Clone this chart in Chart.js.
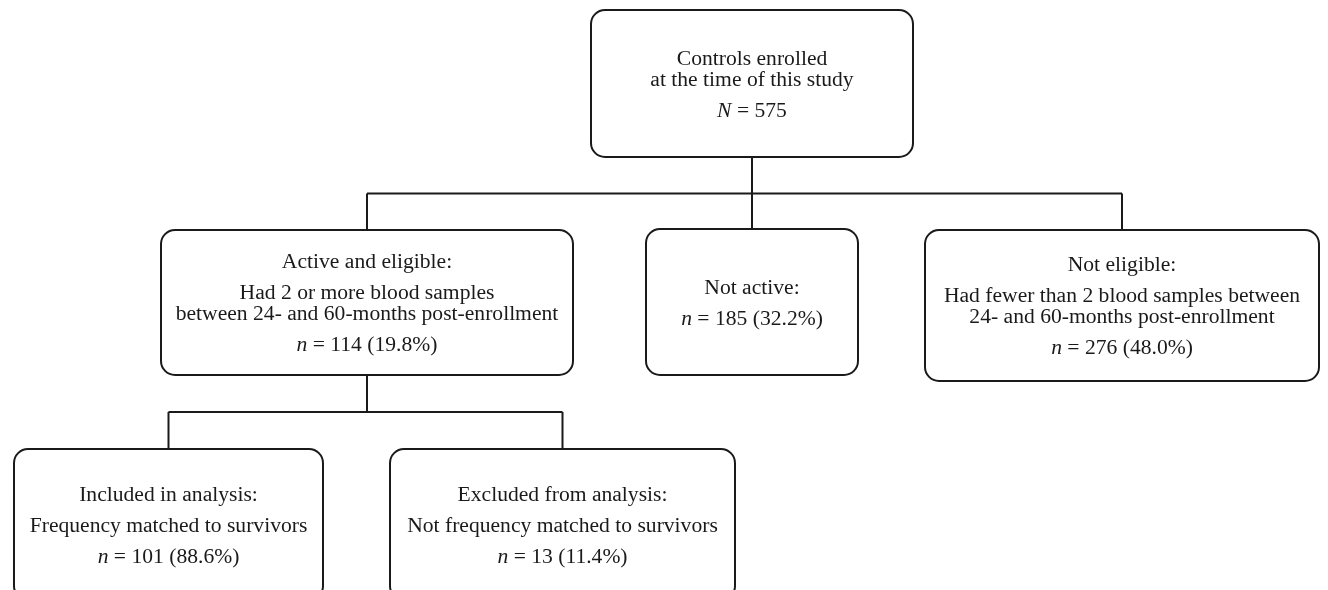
<!DOCTYPE html>
<html lang="en">
<head>
    <meta charset="UTF-8">
    <title>Controls flow diagram</title>
    <script src="https://cdn.jsdelivr.net/npm/chart.js"></script>
    <style>
        html, body {
            margin: 0;
            padding: 0;
            background: #ffffff;
        }
        #flow {
            display: block;
        }
    </style>
</head>
<body>
    <canvas id="flow" width="1328" height="590"></canvas>

    <script>
        // Box content
        const boxTitles = [
            ['Controls enrolled', 'at the time of this study'],
            ['Active and eligible:'],
            ['Not active:'],
            ['Not eligible:'],
            ['Included in analysis:'],
            ['Excluded from analysis:']
        ];
        const boxDetails = [
            [],
            ['Had 2 or more blood samples', 'between 24- and 60-months post-enrollment'],
            [],
            ['Had fewer than 2 blood samples between', '24- and 60-months post-enrollment'],
            ['Frequency matched to survivors'],
            ['Not frequency matched to survivors']
        ];
        const countSymbols = ['N', 'n', 'n', 'n', 'n', 'n'];
        const boxCounts = [575, 114, 185, 276, 101, 13];
        const boxPercents = [null, 19.8, 32.2, 48.0, 88.6, 11.4];
        const parentOf = [null, 0, 0, 0, 1, 1];

        // Layout (diagram units = pixels of the 1328x590 frame)
        const boxLeft   = [591, 161, 646, 925, 14, 390];
        const boxRight  = [913, 573, 858, 1319, 323, 735];
        const boxTop    = [10, 230, 229, 230, 449, 449];
        const boxBottom = [157, 375, 375, 381, 600, 600];
        const junctionY = { 0: 193.5, 1: 412 };

        const FONT_SIZE = 21.6;
        const CAP = 14.3;
        const LINE_GAP = 21;
        const GROUP_GAP = 31;
        const INK = '#1a1a1a';

        function countText(i) {
            let s = ' = ' + boxCounts[i];
            if (boxPercents[i] !== null) s += ' (' + boxPercents[i].toFixed(1) + '%)';
            return s;
        }

        const flowPlugin = {
            id: 'flowBoxes',
            afterDatasetsDraw(chart) {
                const ctx = chart.ctx;
                const xs = chart.scales.x;
                const ys = chart.scales.y;
                const px = v => xs.getPixelForValue(v);
                const py = v => ys.getPixelForValue(v);

                ctx.save();
                ctx.strokeStyle = INK;
                ctx.fillStyle = INK;
                ctx.lineWidth = 2;

                // connectors
                Object.keys(junctionY).forEach(p => {
                    p = +p;
                    const kids = parentOf.map((q, i) => q === p ? i : -1).filter(i => i >= 0);
                    const cx = (boxLeft[p] + boxRight[p]) / 2;
                    const jy = junctionY[p];
                    const kxs = kids.map(k => (boxLeft[k] + boxRight[k]) / 2);
                    ctx.beginPath();
                    ctx.moveTo(px(cx), py(boxBottom[p]));
                    ctx.lineTo(px(cx), py(jy));
                    ctx.moveTo(px(Math.min(...kxs)), py(jy));
                    ctx.lineTo(px(Math.max(...kxs)), py(jy));
                    kids.forEach((k, j) => {
                        ctx.moveTo(px(kxs[j]), py(jy));
                        ctx.lineTo(px(kxs[j]), py(boxTop[k]));
                    });
                    ctx.stroke();
                });

                // boxes
                boxCounts.forEach((c, i) => {
                    const x0 = px(boxLeft[i]), x1 = px(boxRight[i]);
                    const y0 = py(boxTop[i]), y1 = py(boxBottom[i]);
                    ctx.beginPath();
                    ctx.roundRect(x0, y0, x1 - x0, y1 - y0, 14);
                    ctx.fillStyle = '#ffffff';
                    ctx.fill();
                    ctx.stroke();

                    // text lines with group gaps
                    const groups = [boxTitles[i], boxDetails[i], ['__count__']].filter(g => g.length);
                    const steps = [];
                    groups.forEach(g => {
                        g.forEach((line, li) => {
                            steps.push({ line, dy: steps.length === 0 ? 0 : (li === 0 ? GROUP_GAP : LINE_GAP) });
                        });
                    });
                    const total = CAP + steps.reduce((a, s) => a + s.dy, 0);
                    const cx = (x0 + x1) / 2;
                    let base = (y0 + y1) / 2 - total / 2 + CAP;
                    ctx.fillStyle = INK;
                    ctx.textBaseline = 'alphabetic';
                    steps.forEach(s => {
                        base += s.dy;
                        if (s.line === '__count__') {
                            const sym = countSymbols[i];
                            const rest = countText(i);
                            ctx.font = 'italic ' + FONT_SIZE + 'px "Liberation Serif"';
                            const w1 = ctx.measureText(sym).width;
                            ctx.font = FONT_SIZE + 'px "Liberation Serif"';
                            const w2 = ctx.measureText(rest).width;
                            const start = cx - (w1 + w2) / 2;
                            ctx.textAlign = 'left';
                            ctx.font = 'italic ' + FONT_SIZE + 'px "Liberation Serif"';
                            ctx.fillText(sym, start, base);
                            ctx.font = FONT_SIZE + 'px "Liberation Serif"';
                            ctx.fillText(rest, start + w1, base);
                        } else {
                            ctx.font = FONT_SIZE + 'px "Liberation Serif"';
                            ctx.textAlign = 'center';
                            ctx.fillText(s.line, cx, base);
                        }
                    });
                });
                ctx.restore();
            }
        };

        new Chart(document.getElementById('flow').getContext('2d'), {
            type: 'scatter',
            data: {
                datasets: [{
                    data: boxCounts.map((c, i) => ({
                        x: (boxLeft[i] + boxRight[i]) / 2,
                        y: (boxTop[i] + boxBottom[i]) / 2
                    })),
                    pointRadius: 0
                }]
            },
            options: {
                responsive: false,
                animation: false,
                layout: { padding: 0 },
                plugins: { legend: { display: false }, tooltip: { enabled: false } },
                scales: {
                    x: { type: 'linear', min: 0, max: 1328, display: false },
                    y: { type: 'linear', min: 0, max: 590, reverse: true, display: false }
                }
            },
            plugins: [flowPlugin]
        });
    </script>
</body>
</html>
